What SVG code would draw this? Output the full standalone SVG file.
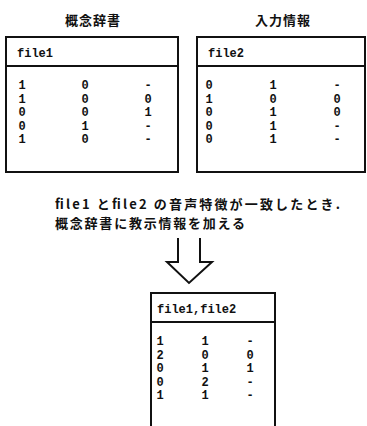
<svg xmlns="http://www.w3.org/2000/svg" width="367" height="426" viewBox="0 0 367 426">
<style>
.box{fill:#fff;stroke:#111;stroke-width:2}
.sep{stroke:#111;stroke-width:2}
.t{font-family:"Liberation Mono","DejaVu Sans Mono",monospace;font-size:12px;font-weight:bold;fill:#111}
.c{text-anchor:middle}
.jp{font-family:"Noto Sans CJK JP","Noto Sans",sans-serif;font-weight:bold;font-size:13px;fill:#111}
.arrow{fill:none;stroke:#111;stroke-width:2;stroke-linejoin:miter}
</style>
<rect width="367" height="426" fill="#fff"/>
<g id="title1"><text class="jp" x="93" y="25" text-anchor="middle" letter-spacing="1">概念辞書</text></g>
<g id="title2"><text class="jp" x="283" y="25" text-anchor="middle" letter-spacing="1">入力情報</text></g>
<g id="file1">
<rect class="box" x="6" y="37" width="172" height="135"/>
<line class="sep" x1="6" y1="66" x2="178" y2="66"/>
<text class="t" x="17" y="57" font-size="13">file1</text>
<g class="t c">
<text x="22" y="89">1</text><text x="85" y="89">0</text><text x="148" y="89">-</text>
<text x="22" y="102.5">1</text><text x="85" y="102.5">0</text><text x="148" y="102.5">0</text>
<text x="22" y="116">0</text><text x="85" y="116">0</text><text x="148" y="116">1</text>
<text x="22" y="129.5">0</text><text x="85" y="129.5">1</text><text x="148" y="129.5">-</text>
<text x="22" y="143">1</text><text x="85" y="143">0</text><text x="148" y="143">-</text>
</g>
</g>
<g id="file2">
<rect class="box" x="197" y="37" width="168" height="135"/>
<line class="sep" x1="197" y1="66" x2="365" y2="66"/>
<text class="t" x="208" y="57" font-size="13">file2</text>
<g class="t c">
<text x="209" y="89">0</text><text x="273" y="89">1</text><text x="337" y="89">-</text>
<text x="209" y="102.5">1</text><text x="273" y="102.5">0</text><text x="337" y="102.5">0</text>
<text x="209" y="116">0</text><text x="273" y="116">1</text><text x="337" y="116">0</text>
<text x="209" y="129.5">0</text><text x="273" y="129.5">1</text><text x="337" y="129.5">-</text>
<text x="209" y="143">0</text><text x="273" y="143">1</text><text x="337" y="143">-</text>
</g>
</g>
<g id="caption">
<text class="jp" x="55" y="209" textLength="285" lengthAdjust="spacing">file1 とfile2 の音声特徴が一致したとき.</text>
<text class="jp" x="55" y="228" textLength="190" lengthAdjust="spacing">概念辞書に教示情報を加える</text>
</g>
<g id="connectors">
<path class="arrow" d="M178,238 V262 H167 L189,283 L212,262 H200 V238"/>
</g>
<g id="merged">
<rect class="box" x="151" y="293" width="124" height="140"/>
<line class="sep" x1="151" y1="322" x2="275" y2="322"/>
<text class="t" x="157" y="313" font-size="13">file1,file2</text>
<g class="t c">
<text x="160" y="345">1</text><text x="205" y="345">1</text><text x="250" y="345">-</text>
<text x="160" y="358.5">2</text><text x="205" y="358.5">0</text><text x="250" y="358.5">0</text>
<text x="160" y="372">0</text><text x="205" y="372">1</text><text x="250" y="372">1</text>
<text x="160" y="385.5">0</text><text x="205" y="385.5">2</text><text x="250" y="385.5">-</text>
<text x="160" y="399">1</text><text x="205" y="399">1</text><text x="250" y="399">-</text>
</g>
</g>
</svg>
